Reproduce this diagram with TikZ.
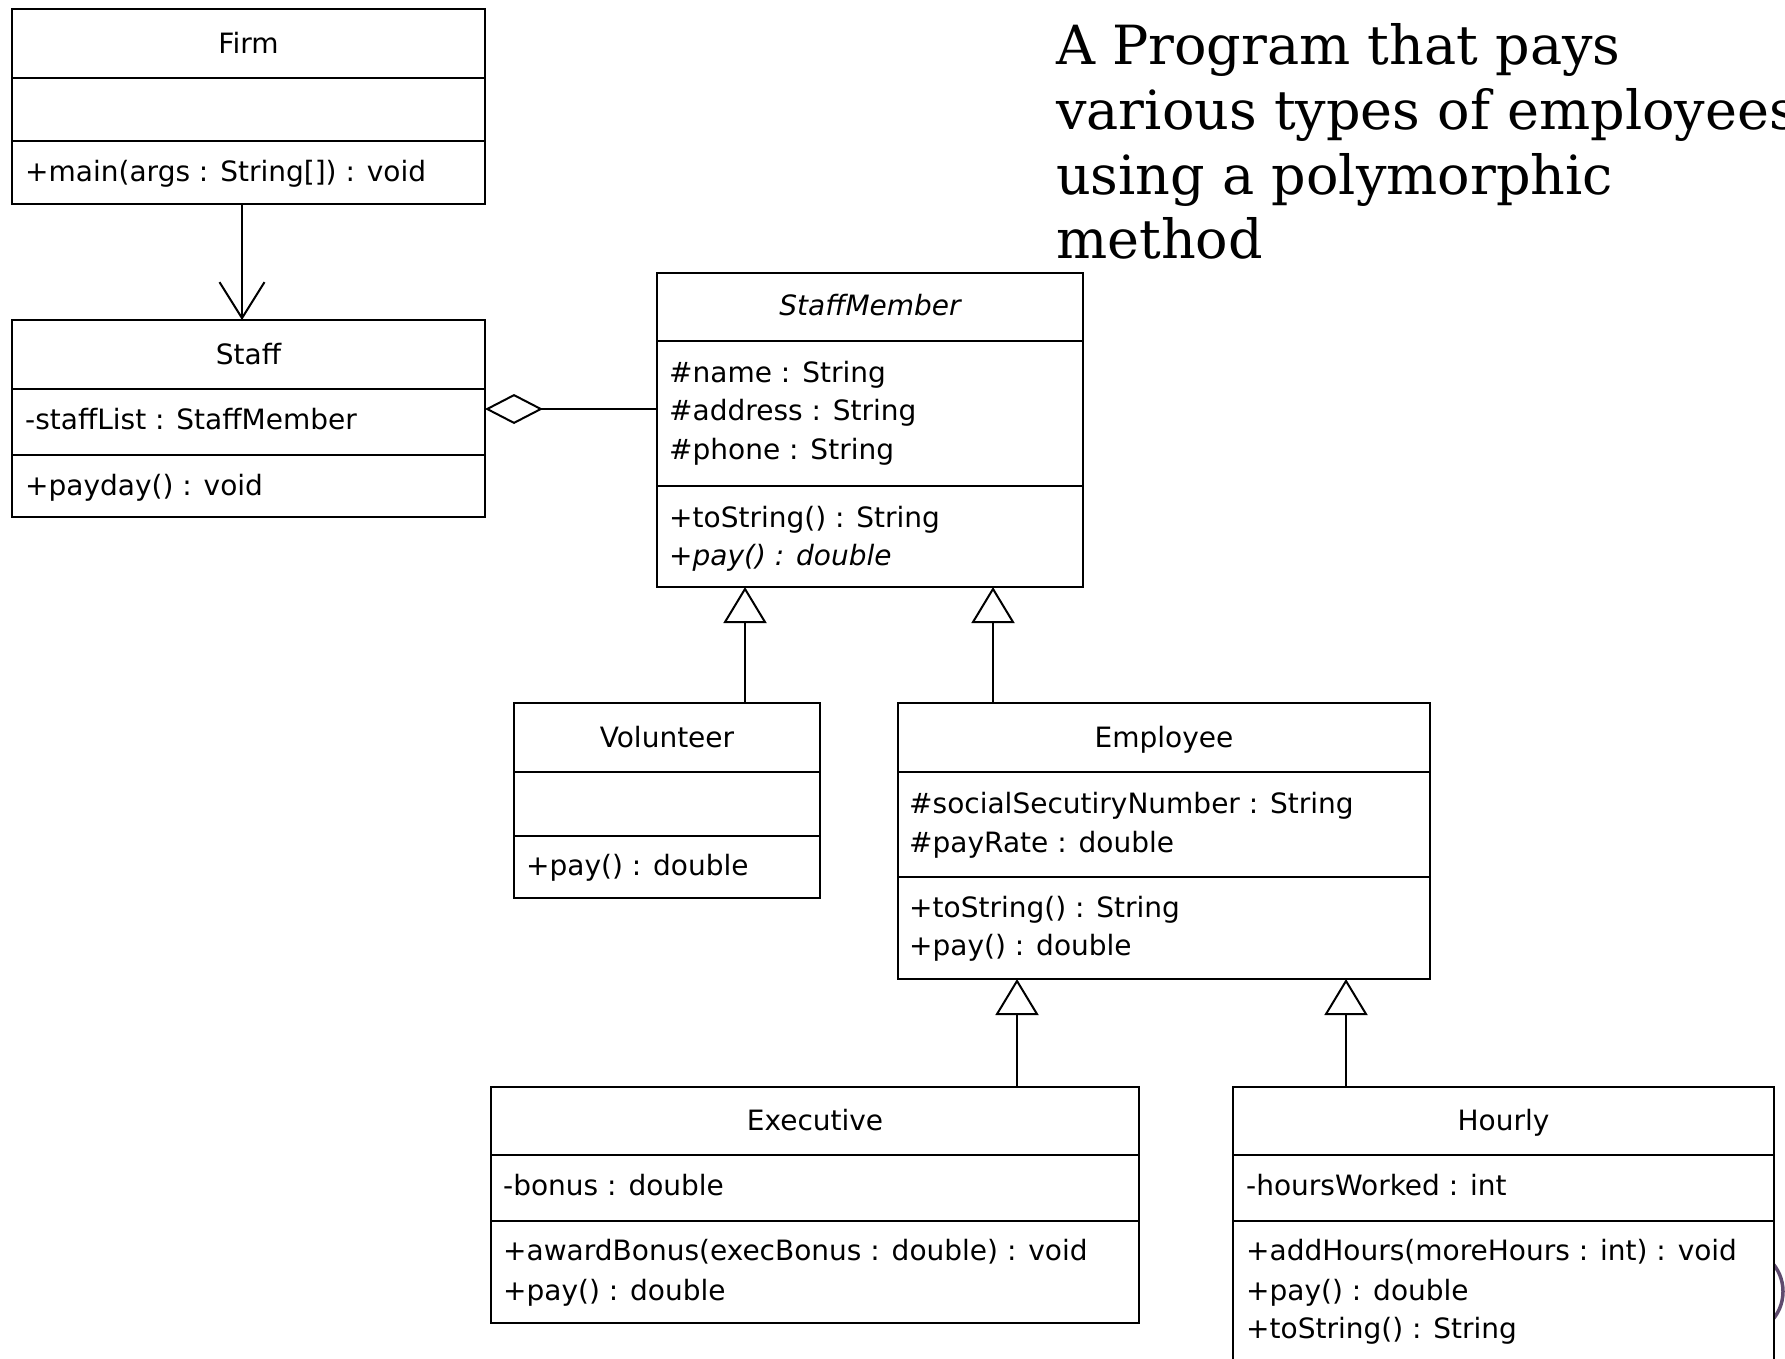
\documentclass[tikz,border=0pt]{standalone}
\usepackage{fontspec}
\setmainfont{DejaVu Sans}
\newfontfamily\headfont{DejaVu Serif}
\usetikzlibrary{arrows.meta}
\definecolor{arcpurple}{RGB}{95,75,110}

% class box: name, x1, y1, x2, y2, first divider, second divider
\newcommand\umlclass[7]{%
  \node[cls, minimum width={(#4-#2)*1pt}, minimum height={(#5-#3)*1pt}] (#1) at (#2,#3) {};
  \draw[sep] (#1.west |- 0,#6) -- (#1.east |- 0,#6);
  \draw[sep] (#1.west |- 0,#7) -- (#1.east |- 0,#7);
}

\begin{document}
\begin{tikzpicture}[x=1pt,y=-1pt,
  cls/.style={draw=black, line width=2.6pt, fill=white, rectangle, inner sep=0pt,
              outer sep=0pt, anchor=north west},
  sep/.style={line width=2.4pt},
  umlfont/.style={font=\fontsize{28}{34}\selectfont},
  txt/.style={umlfont, anchor=base west, inner sep=0pt},
  ttl/.style={umlfont, anchor=base, inner sep=0pt},
  head/.style={font=\headfont\fontsize{54}{64}\selectfont, anchor=base west, inner sep=0pt},
  link/.style={line width=2pt},
  dep/.style={link, -{Straight Barb[length=36pt, width=45pt, line width=2pt]}},
  agg/.style={link, {Diamond[open, length=58pt, width=30pt, line width=2pt]}-},
  gen/.style={link, -{Triangle[open, length=36pt, width=43pt, line width=2pt]}}
]
\useasboundingbox (0,0) rectangle (1785,1358);
\clip (0,0) rectangle (1785,1358);

% heading
\node[head] (h1) at (1056,64)  {A Program that pays};
\node[head] (h2) at (1056,129) {various types of employees};
\node[head] (h3) at (1056,194) {using a polymorphic};
\node[head] (h4) at (1056,258) {method};

% decorative ring partly hidden behind the Hourly box
\draw[arcpurple, line width=3.5pt] (1739.5,1291.5) circle (43.5pt);

% classes
\umlclass{firm}{12}{9}{485}{204}{78}{141}
\node[ttl] (firmT) at (248.5,53) {Firm};
\node[txt] (firmO1) at (25,181) {+main(args : String[]) : void};

\umlclass{staff}{12}{320}{485}{517}{389}{455}
\node[ttl] (staffT) at (248.5,364) {Staff};
\node[txt] (staffA1) at (25,429) {-staffList : StaffMember};
\node[txt] (staffO1) at (25,495) {+payday() : void};

\umlclass{sm}{657}{273}{1083}{587}{341}{486}
\node[ttl] (smT) at (870,315) {\itshape StaffMember};
\node[txt] (smA1) at (669,382) {\#name : String};
\node[txt] (smA2) at (669,420) {\#address : String};
\node[txt] (smA3) at (669,459) {\#phone : String};
\node[txt] (smO1) at (669,527) {+toString() : String};
\node[txt] (smO2) at (669,565) {\itshape +pay() : double};

\umlclass{vol}{514}{703}{820}{898}{772}{836}
\node[ttl] (volT) at (667,747) {Volunteer};
\node[txt] (volO1) at (526,875) {+pay() : double};

\umlclass{emp}{898}{703}{1430}{979}{772}{877}
\node[ttl] (empT) at (1164,747) {Employee};
\node[txt] (empA1) at (909,813) {\#socialSecutiryNumber : String};
\node[txt] (empA2) at (909,852) {\#payRate : double};
\node[txt] (empO1) at (909,917) {+toString() : String};
\node[txt] (empO2) at (909,955) {+pay() : double};

\umlclass{exec}{491}{1087}{1139}{1323}{1155}{1221}
\node[ttl] (execT) at (815,1130) {Executive};
\node[txt] (execA1) at (503,1195) {-bonus : double};
\node[txt] (execO1) at (503,1260) {+awardBonus(execBonus : double) : void};
\node[txt] (execO2) at (503,1300) {+pay() : double};

\umlclass{hour}{1233}{1087}{1774}{1400}{1155}{1221}
\node[ttl] (hourT) at (1503.5,1130) {Hourly};
\node[txt] (hourA1) at (1246,1195) {-hoursWorked : int};
\node[txt] (hourO1) at (1246,1260) {+addHours(moreHours : int) : void};
\node[txt] (hourO2) at (1246,1300) {+pay() : double};
\node[txt] (hourO3) at (1246,1338) {+toString() : String};

% connector columns and rows
\coordinate (cDep) at (242,0);
\coordinate (rAgg) at (0,409);
\coordinate (cVol) at (745,0);
\coordinate (cEmp) at (993,0);
\coordinate (cExec) at (1017,0);
\coordinate (cHour) at (1346,0);

% connectors
\draw[dep] (firm.south -| cDep) -- (staff.north -| cDep);
\draw[agg] (staff.east |- rAgg) -- (sm.west |- rAgg);
\draw[gen] (vol.north -| cVol) -- (sm.south -| cVol);
\draw[gen] (emp.north -| cEmp) -- (sm.south -| cEmp);
\draw[gen] (exec.north -| cExec) -- (emp.south -| cExec);
\draw[gen] (hour.north -| cHour) -- (emp.south -| cHour);
\end{tikzpicture}
\end{document}
